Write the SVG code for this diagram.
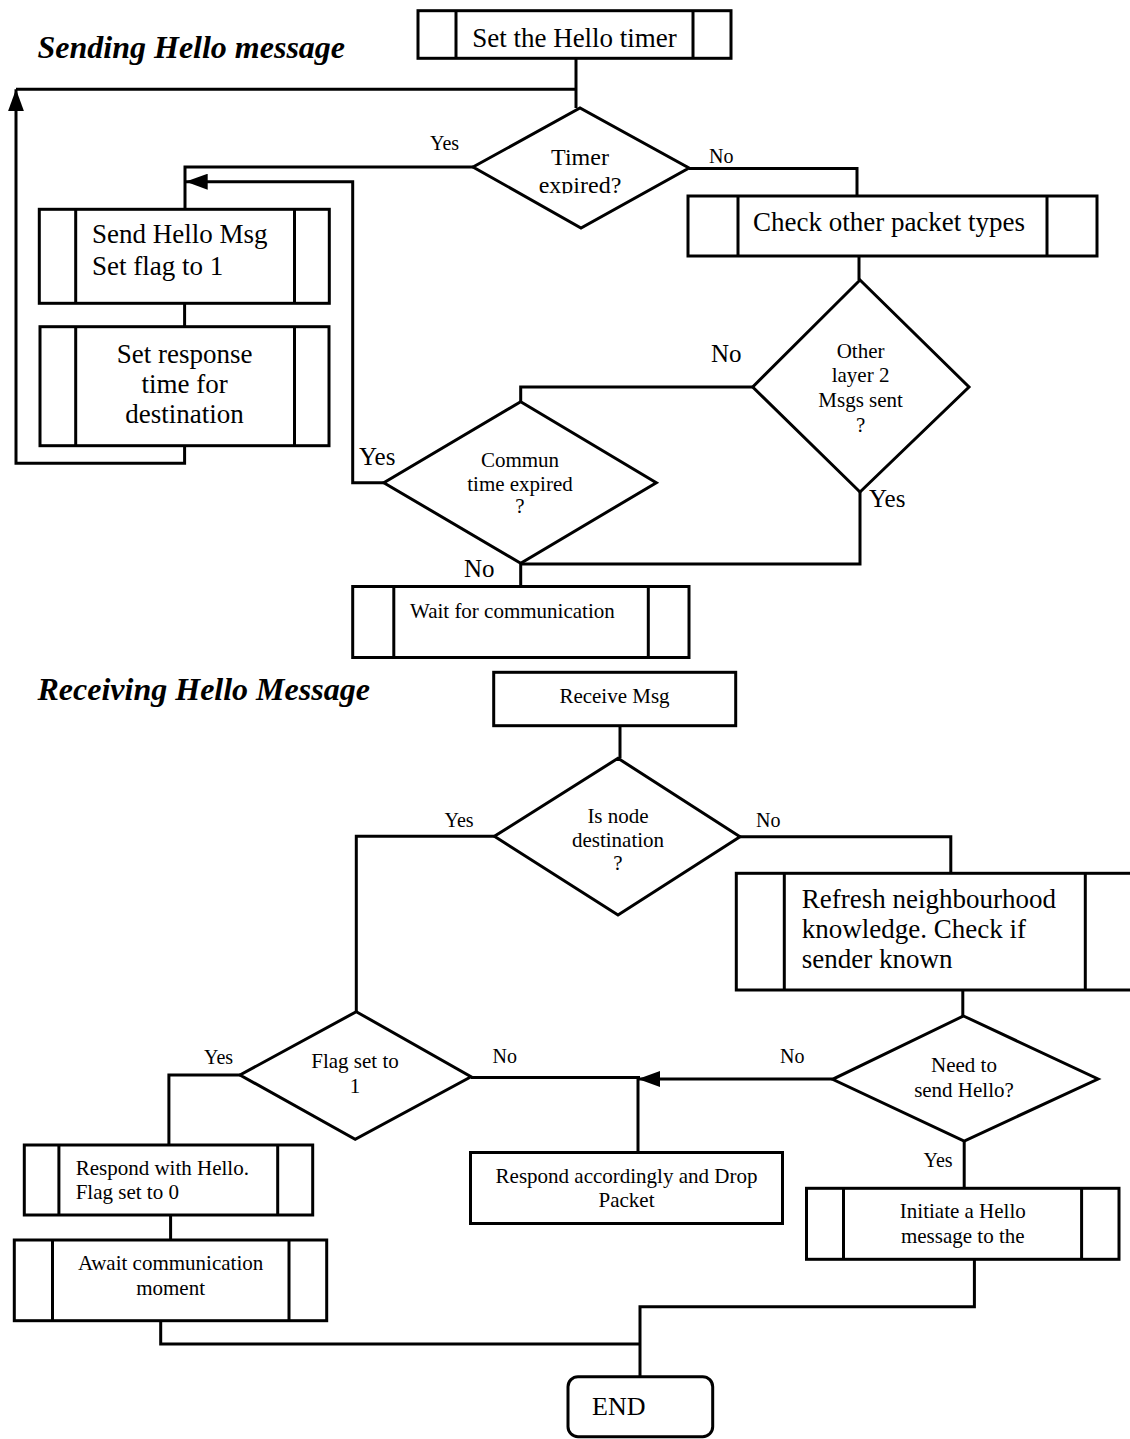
<svg xmlns="http://www.w3.org/2000/svg" width="1130" height="1439" viewBox="0 0 1130 1439">
<style>
  .box { fill: #ffffff; stroke: #000000; stroke-width: 3; }
  .bar { fill: none; stroke: #000000; stroke-width: 3; }
  .ln { fill: none; stroke: #000000; stroke-width: 3; }
  text { font-family: "Liberation Serif", "Times New Roman", serif; fill: #000000; }
  .title { font-size: 32px; font-weight: bold; font-style: italic; }
  .big { font-size: 27px; }
  .sm { font-size: 21px; }
  .lbl { font-size: 20px; }
  .lbl2 { font-size: 25px; }
  .mid { text-anchor: middle; }
</style>
<defs>
  <marker id="arrow" viewBox="0 0 22 16" refX="22" refY="8" markerWidth="22" markerHeight="16" markerUnits="userSpaceOnUse" orient="auto">
    <path d="M0,0 L22,8 L0,16 Z" fill="#000000"/>
  </marker>
  <clipPath id="clipTimer">
    <rect x="470" y="100" width="220" height="93.5"/>
  </clipPath>
</defs>
<rect x="0" y="0" width="1130" height="1439" fill="#ffffff"/>

<text class="title" x="37.5" y="58">Sending Hello message</text>
<text class="title" x="37.5" y="700">Receiving Hello Message</text>

<g id="connectors">
  <path class="ln" d="M576,58.3 V108"/>
  <path class="ln" d="M16,89.3 H576"/>
  <path class="ln" d="M184.6,445.7 V463.3 H16 V89.3" marker-end="url(#arrow)"/>
  <path class="ln" d="M473,167 H185 V209.3"/>
  <path class="ln" d="M689,168.5 H857 V196"/>
  <path class="ln" d="M184.6,303.3 V326.7"/>
  <path class="ln" d="M859,256 V280"/>
  <path class="ln" d="M752.7,387 H520.7 V401.7"/>
  <path class="ln" d="M860,492 V564 H520.7"/>
  <path class="ln" d="M383.8,482.7 H352.7 V181.7 H185.7" marker-end="url(#arrow)"/>
  <path class="ln" d="M520.7,563.3 V586.5"/>
  <path class="ln" d="M620,725.7 V758.3"/>
  <path class="ln" d="M494.4,836.3 H356.3 V1011.7"/>
  <path class="ln" d="M740,836.7 H950.8 V873.3"/>
  <path class="ln" d="M962.8,990 V1016"/>
  <path class="ln" d="M240,1075 H168.9 V1145"/>
  <path class="ln" d="M471,1077.5 H640"/>
  <path class="ln" d="M832.6,1079 H638" marker-end="url(#arrow)"/>
  <path class="ln" d="M638,1152.5 V1079"/>
  <path class="ln" d="M964.2,1141 V1188.3"/>
  <path class="ln" d="M170.6,1215 V1240"/>
  <path class="ln" d="M160.7,1320.7 V1344 H640"/>
  <path class="ln" d="M974.4,1259.3 V1306.7 H640 V1376.7"/>
</g>

<g id="labels">
  <text class="lbl" x="430" y="150">Yes</text>
  <text class="lbl" x="709" y="163">No</text>
  <text class="lbl2" x="711" y="362">No</text>
  <text class="lbl2" x="869" y="507">Yes</text>
  <text class="lbl2" x="359" y="465">Yes</text>
  <text class="lbl2" x="464" y="577">No</text>
  <text class="lbl" x="444.5" y="826.7">Yes</text>
  <text class="lbl" x="756" y="826.7">No</text>
  <text class="lbl" x="204" y="1064.3">Yes</text>
  <text class="lbl" x="492.6" y="1063.3">No</text>
  <text class="lbl" x="780" y="1063.3">No</text>
  <text class="lbl" x="923.5" y="1167.3">Yes</text>
</g>

<g id="n_set_timer">
  <rect class="box" x="418" y="10.7" width="313" height="47.6"/>
  <path class="bar" d="M456,10.7 V58.3 M693,10.7 V58.3"/>
  <text class="big mid" x="574.5" y="46.7">Set the Hello timer</text>
</g>

<g id="n_timer_expired">
  <polygon class="box" points="473,167 580,108 689,168 581,228"/>
  <g clip-path="url(#clipTimer)">
    <text class="mid" font-size="24" x="580" y="165">Timer</text>
    <text class="mid" font-size="24" x="580" y="193">expired?</text>
  </g>
</g>

<g id="n_send_hello">
  <rect class="box" x="39.3" y="209.3" width="290" height="94"/>
  <path class="bar" d="M75.7,209.3 V303.3 M294.5,209.3 V303.3"/>
  <text class="big" x="92" y="243.3">Send Hello Msg</text>
  <text class="big" x="92" y="275">Set flag to 1</text>
</g>

<g id="n_set_response">
  <rect class="box" x="40" y="326.7" width="289" height="119"/>
  <path class="bar" d="M75.7,326.7 V445.7 M294.5,326.7 V445.7"/>
  <text class="big mid" x="184.6" y="363">Set response</text>
  <text class="big mid" x="184.6" y="393">time for</text>
  <text class="big mid" x="184.6" y="423">destination</text>
</g>

<g id="n_check_other">
  <rect class="box" x="688" y="196" width="409" height="60"/>
  <path class="bar" d="M738,196 V256 M1047,196 V256"/>
  <text class="big mid" x="889" y="231">Check other packet types</text>
</g>

<g id="n_other_layer2">
  <polygon class="box" points="860,280 969,387 860,492 752.7,387"/>
  <text class="sm mid" x="860.6" y="358">Other</text>
  <text class="sm mid" x="860.6" y="382">layer 2</text>
  <text class="sm mid" x="860.6" y="407">Msgs sent</text>
  <text class="sm mid" x="860.6" y="432">?</text>
</g>

<g id="n_commun">
  <polygon class="box" points="520.7,401.7 656.3,482.7 520.7,563.3 383.8,482.7"/>
  <text class="sm mid" x="520" y="466.7">Commun</text>
  <text class="sm mid" x="520" y="490.7">time expired</text>
  <text class="sm mid" x="520" y="513">?</text>
</g>

<g id="n_wait">
  <rect class="box" x="352.7" y="586.5" width="336.3" height="71"/>
  <path class="bar" d="M393.8,586.5 V657.5 M648.3,586.5 V657.5"/>
  <text class="sm" x="410" y="618.3">Wait for communication</text>
</g>

<g id="n_receive">
  <rect class="box" x="493.7" y="672.3" width="242" height="53.4"/>
  <text class="sm mid" x="614.5" y="703">Receive Msg</text>
</g>

<g id="n_is_dest">
  <polygon class="box" points="618,758.3 740,836.7 618,915 494.4,836.3"/>
  <text class="sm mid" x="618" y="822.7">Is node</text>
  <text class="sm mid" x="618" y="846.7">destination</text>
  <text class="sm mid" x="618" y="870">?</text>
</g>

<g id="n_refresh">
  <rect class="box" x="736.3" y="873.3" width="400" height="116.7"/>
  <path class="bar" d="M784.3,873.3 V990 M1085.3,873.3 V990"/>
  <text class="big" x="801.7" y="908.3">Refresh neighbourhood</text>
  <text class="big" x="801.7" y="938.3">knowledge. Check if</text>
  <text class="big" x="801.7" y="968.3">sender known</text>
</g>

<g id="n_need_hello">
  <polygon class="box" points="963.5,1016 1098,1079 964.2,1141 832.6,1079.3"/>
  <text class="sm mid" x="964" y="1071.7">Need to</text>
  <text class="sm mid" x="964" y="1096.7">send Hello?</text>
</g>

<g id="n_flag">
  <polygon class="box" points="356.3,1011.7 471,1076.7 355.2,1139.3 240,1075"/>
  <text class="sm mid" x="355" y="1068.3">Flag set to</text>
  <text class="sm mid" x="355" y="1093.3">1</text>
</g>

<g id="n_respond_hello">
  <rect class="box" x="24.3" y="1145" width="288.4" height="70"/>
  <path class="bar" d="M58.9,1145 V1215 M277.7,1145 V1215"/>
  <text class="sm" x="75.7" y="1175">Respond with Hello.</text>
  <text class="sm" x="75.7" y="1199.3">Flag set to 0</text>
</g>

<g id="n_await">
  <rect class="box" x="14.3" y="1240" width="312.4" height="80.7"/>
  <path class="bar" d="M52.5,1240 V1320.7 M289,1240 V1320.7"/>
  <text class="sm mid" x="170.6" y="1270">Await communication</text>
  <text class="sm mid" x="170.6" y="1295">moment</text>
</g>

<g id="n_respond_drop">
  <rect class="box" x="470.5" y="1152.5" width="312" height="71"/>
  <text class="sm mid" x="626.5" y="1183.3">Respond accordingly and Drop</text>
  <text class="sm mid" x="626.5" y="1206.7">Packet</text>
</g>

<g id="n_initiate">
  <rect class="box" x="806.5" y="1188.3" width="312.5" height="71"/>
  <path class="bar" d="M843.5,1188.3 V1259.3 M1081.6,1188.3 V1259.3"/>
  <text class="sm mid" x="962.8" y="1218.3">Initiate a Hello</text>
  <text class="sm mid" x="962.8" y="1242.7">message to the</text>
</g>

<g id="n_end">
  <rect class="box" x="568" y="1376.7" width="144.7" height="60" rx="10" ry="10"/>
  <text x="592" y="1415" font-size="26">END</text>
</g>
</svg>
